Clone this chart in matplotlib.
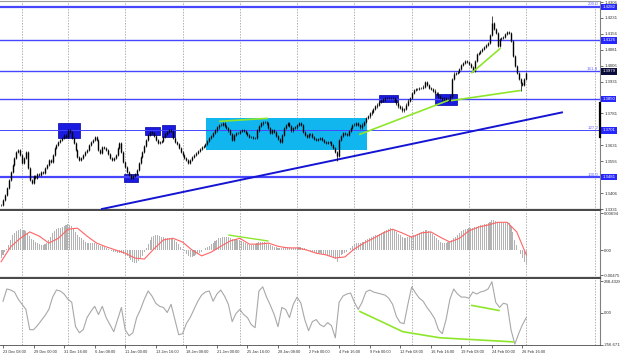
import numpy as np
import matplotlib.pyplot as plt
from matplotlib.patches import Rectangle

plt.rcParams['font.family'] = ['Liberation Sans', 'DejaVu Sans']

# ---- data (bar index 0 = 23 Dec 08:00, 4H bars) ----
bars = np.arange(-1, 275)
closes = [
    1.3350, 1.3373, 1.3397, 1.3429, 1.3467, 1.3504, 1.3537, 1.3570, 1.3598, 1.3608,
    1.3584, 1.3547, 1.3570, 1.3598, 1.3523, 1.3467, 1.3453, 1.3486, 1.3476, 1.3495,
    1.3490, 1.3504, 1.3500, 1.3523, 1.3537, 1.3561, 1.3551, 1.3584, 1.3617, 1.3631,
    1.3645, 1.3654, 1.3664, 1.3678, 1.3669, 1.3701, 1.3692, 1.3664, 1.3640, 1.3608,
    1.3575, 1.3561, 1.3570, 1.3584, 1.3598, 1.3608, 1.3631, 1.3645, 1.3654, 1.3669,
    1.3654, 1.3608, 1.3594, 1.3622, 1.3617, 1.3608, 1.3589, 1.3570, 1.3561, 1.3570,
    1.3584, 1.3617, 1.3640, 1.3598, 1.3551, 1.3528, 1.3504, 1.3490, 1.3476, 1.3486,
    1.3495, 1.3514, 1.3547, 1.3575, 1.3598, 1.3626, 1.3654, 1.3678, 1.3692, 1.3687,
    1.3673, 1.3654, 1.3640, 1.3645, 1.3650, 1.3669, 1.3683, 1.3692, 1.3701, 1.3697,
    1.3664, 1.3645, 1.3636, 1.3617, 1.3598, 1.3584, 1.3570, 1.3561, 1.3547, 1.3561,
    1.3575, 1.3584, 1.3594, 1.3603, 1.3612, 1.3622, 1.3626, 1.3636, 1.3650, 1.3664,
    1.3673, 1.3687, 1.3701, 1.3715, 1.3725, 1.3729, 1.3734, 1.3720, 1.3711, 1.3701,
    1.3683, 1.3654, 1.3678, 1.3687, 1.3687, 1.3697, 1.3701, 1.3697, 1.3687, 1.3678,
    1.3669, 1.3669, 1.3664, 1.3664, 1.3701, 1.3720, 1.3734, 1.3739, 1.3739, 1.3734,
    1.3711, 1.3687, 1.3701, 1.3692, 1.3673, 1.3659, 1.3645, 1.3678, 1.3711, 1.3725,
    1.3734, 1.3720, 1.3701, 1.3711, 1.3715, 1.3725, 1.3734, 1.3725, 1.3692, 1.3678,
    1.3669, 1.3683, 1.3683, 1.3669, 1.3659, 1.3654, 1.3659, 1.3664, 1.3654, 1.3645,
    1.3640, 1.3645, 1.3645, 1.3631, 1.3617, 1.3598, 1.3579, 1.3654, 1.3673, 1.3687,
    1.3683, 1.3678, 1.3697, 1.3711, 1.3725, 1.3729, 1.3734, 1.3725, 1.3715, 1.3729,
    1.3739, 1.3758, 1.3767, 1.3781, 1.3790, 1.3804, 1.3814, 1.3823, 1.3833, 1.3842,
    1.3847, 1.3852, 1.3855, 1.3852, 1.3855, 1.3852, 1.3842, 1.3828, 1.3814, 1.3809,
    1.3795, 1.3804, 1.3823, 1.3842, 1.3855, 1.3879, 1.3893, 1.3898, 1.3898, 1.3903,
    1.3903, 1.3908, 1.3931, 1.3917, 1.3903, 1.3898, 1.3889, 1.3879, 1.3875, 1.3861,
    1.3852, 1.3847, 1.3852, 1.3842, 1.3847, 1.3861, 1.3945, 1.3969, 1.3973, 1.3978,
    1.3992, 1.4011, 1.4020, 1.4030, 1.4025, 1.4015, 1.4001, 1.3983, 1.4030, 1.4062,
    1.4067, 1.4076, 1.4086, 1.4095, 1.4104, 1.4114, 1.4151, 1.4208, 1.4180, 1.4161,
    1.4100, 1.4133, 1.4137, 1.4142, 1.4156, 1.4165, 1.4161, 1.4123, 1.4053, 1.4006,
    1.3973, 1.3945, 1.3926, 1.3917, 1.3945, 1.3973,
]
spike_bars = [175, 256, 271]
spike_vals = [1.3556, 1.4241, 1.3889]

macd_hist = [
    -0.0015, -0.0009, -0.0004, 0.0002, 0.0009, 0.0019, 0.0028, 0.0032, 0.0036, 0.0037,
    0.0039, 0.0037, 0.0037, 0.0036, 0.0032, 0.0026, 0.0021, 0.0019, 0.0015, 0.0013,
    0.0011, 0.0009, 0.0009, 0.0011, 0.0013, 0.0019, 0.0024, 0.0032, 0.0036, 0.0039,
    0.0041, 0.0041, 0.0043, 0.0045, 0.0047, 0.0049, 0.0047, 0.0045, 0.0039, 0.0034,
    0.0028, 0.0024, 0.0022, 0.0019, 0.0015, 0.0013, 0.0013, 0.0013, 0.0013, 0.0013,
    0.0011, 0.0009, 0.0007, 0.0007, 0.0006, 0.0004, 0.0002, 0.0000, -0.0002, -0.0004,
    -0.0004, -0.0006, -0.0006, -0.0006, -0.0007, -0.0009, -0.0011, -0.0015, -0.0019, -0.0022,
    -0.0024, -0.0024, -0.0021, -0.0017, -0.0011, -0.0004, 0.0004, 0.0011, 0.0019, 0.0024,
    0.0026, 0.0028, 0.0028, 0.0026, 0.0024, 0.0024, 0.0022, 0.0022, 0.0022, 0.0022,
    0.0021, 0.0019, 0.0015, 0.0011, 0.0006, 0.0002, -0.0002, -0.0007, -0.0011, -0.0013,
    -0.0013, -0.0011, -0.0009, -0.0007, -0.0006, -0.0004, 0.0000, 0.0004, 0.0006, 0.0007,
    0.0011, 0.0013, 0.0017, 0.0019, 0.0022, 0.0022, 0.0024, 0.0024, 0.0024, 0.0024,
    0.0022, 0.0021, 0.0021, 0.0021, 0.0019, 0.0019, 0.0017, 0.0015, 0.0013, 0.0011,
    0.0009, 0.0009, 0.0009, 0.0011, 0.0013, 0.0015, 0.0015, 0.0015, 0.0015, 0.0013,
    0.0011, 0.0009, 0.0007, 0.0006, 0.0006, 0.0004, 0.0004, 0.0004, 0.0006, 0.0006,
    0.0006, 0.0006, 0.0004, 0.0004, 0.0004, 0.0006, 0.0006, 0.0006, 0.0004, 0.0004,
    0.0002, 0.0000, -0.0002, -0.0004, -0.0004, -0.0006, -0.0006, -0.0006, -0.0007, -0.0007,
    -0.0009, -0.0009, -0.0011, -0.0011, -0.0013, -0.0017, -0.0022, -0.0013, -0.0009, -0.0007,
    -0.0006, -0.0004, 0.0000, 0.0004, 0.0007, 0.0011, 0.0013, 0.0013, 0.0013, 0.0015,
    0.0015, 0.0019, 0.0021, 0.0022, 0.0024, 0.0026, 0.0028, 0.0028, 0.0030, 0.0032,
    0.0034, 0.0036, 0.0037, 0.0039, 0.0041, 0.0039, 0.0037, 0.0034, 0.0030, 0.0028,
    0.0024, 0.0022, 0.0022, 0.0024, 0.0024, 0.0026, 0.0028, 0.0028, 0.0030, 0.0032,
    0.0034, 0.0036, 0.0037, 0.0037, 0.0036, 0.0034, 0.0030, 0.0026, 0.0022, 0.0019,
    0.0015, 0.0013, 0.0013, 0.0013, 0.0015, 0.0015, 0.0019, 0.0022, 0.0024, 0.0028,
    0.0032, 0.0036, 0.0037, 0.0039, 0.0039, 0.0041, 0.0041, 0.0041, 0.0043, 0.0043,
    0.0045, 0.0047, 0.0047, 0.0049, 0.0049, 0.0050, 0.0052, 0.0056, 0.0056, 0.0054,
    0.0052, 0.0052, 0.0052, 0.0050, 0.0050, 0.0050, 0.0050, 0.0045, 0.0034, 0.0019,
    0.0009, 0.0000, -0.0007, -0.0015, -0.0022, -0.0028,
]
signal_bars = np.arange(-1, 275, 5)
macd_signal = [
    -0.0022, 0.0006, 0.0022, 0.0034, 0.0026, 0.0013, 0.0022, 0.0039, 0.0041, 0.0026,
    0.0013, 0.0006, 0.0000, -0.0006, -0.0015, -0.0017, 0.0002, 0.0019, 0.0022, 0.0015,
    0.0000, -0.0011, -0.0004, 0.0007, 0.0017, 0.0022, 0.0011, 0.0011, 0.0013, 0.0007,
    0.0004, 0.0004, 0.0000, -0.0006, -0.0009, -0.0015, -0.0013, 0.0002, 0.0013, 0.0022,
    0.0032, 0.0039, 0.0032, 0.0024, 0.0032, 0.0034, 0.0024, 0.0015, 0.0022, 0.0036,
    0.0043, 0.0047, 0.0052, 0.0052, 0.0034, -0.0009,
]
cci_bars = np.arange(0, 275, 2)
cci = [
    89, 186, 178, 162, 105, 65, 24, -136, -136, -104,
    -64, -24, 24, 122, 178, 170, 146, 105, 81, -112,
    -160, -136, -40, 8, 49, -16, 49, -40, -96, -152,
    -56, 40, -136, -184, -160, -40, 24, 105, 170, 130,
    73, 49, 40, 0, 65, -56, -176, -168, -88, -40,
    24, 89, 138, 162, 170, 89, 146, 178, 130, 65,
    -72, -8, 24, -16, -40, -96, -120, 170, 203, 122,
    57, -16, -112, 40, 24, -40, 65, 122, 73, -56,
    -144, -72, -56, -96, -112, -80, -104, -200, 81, 130,
    146, 154, 81, 24, 81, 162, 178, 162, 154, 146,
    138, 113, 65, -32, -80, -88, 65, 203, 154, 113,
    89, 40, 0, -48, -136, -168, -56, 105, 186, 146,
    122, 122, 113, 162, 146, 162, 170, 186, 243, 81,
    40, 73, 65, -136, -250, -168, -96, -40,
]

date_bars = np.arange(0, 273, 16)
date_labels = ['23 Dec 08:00', '29 Dec 00:00', '31 Dec 16:00', '6 Jan 08:00',
               '11 Jan 00:00', '13 Jan 16:00', '18 Jan 08:00', '21 Jan 00:00',
               '25 Jan 16:00', '28 Jan 08:00', '2 Feb 00:00', '4 Feb 16:00',
               '9 Feb 00:00', '12 Feb 08:00', '16 Feb 16:00', '19 Feb 08:00',
               '24 Feb 00:00', '26 Feb 16:00']
week_bars = [10, 34, 64, 94, 124, 154, 184, 214, 244, 274, 310]

price_ticks = [1.3331, 1.3406, 1.3556, 1.3631, 1.3781, 1.3931, 1.4006,
               1.4081, 1.4156, 1.4231, 1.4306]
levels = [1.4282, 1.4126, 1.3979, 1.3850, 1.3701, 1.3481]
level_widths = [1.6, 1.0, 1.0, 1.0, 0.7, 1.6]
fib_levels = [1.4282, 1.3979, 1.3701, 1.3481]
fib_labels = ['200.0', '161.8', '127.2', '100.0']

# zones: (bar_start, bar_end, price_low, price_high)
blue_zones = [(28.8, 40.3, 1.3664, 1.3734), (63.4, 70.7, 1.3458, 1.3495),
              (74.3, 82.2, 1.3678, 1.3715), (83.2, 90.1, 1.3669, 1.3725),
              (196.9, 206.8, 1.3833, 1.3870), (226.0, 237.7, 1.3819, 1.3875)]
range_zone = (106.3, 190.6, 1.3608, 1.3762)
trend_line = ([51.8, 292.7], [1.3331, 1.3786])
green_price = [([113.6, 138.2], [1.3744, 1.3758]),
               ([186.9, 233.0], [1.3683, 1.3842]),
               ([235.0, 270.7], [1.3842, 1.3889]),
               ([245.5, 260.2], [1.3973, 1.4086])]
green_macd = ([118.3, 138.7], [0.0028, 0.0017])
green_cci = [([186.9, 209.4, 228.8, 267.0], [8, -152, -200, -232]),
             ([245.5, 259.7], [56, 16])]

# ---- figure ----
W, H = 620, 357
fig = plt.figure(figsize=(W / 100, H / 100), dpi=100)
fig.patch.set_facecolor('white')


def box(top, bottom):
    return [0, 1 - bottom / H, 600 / W, (bottom - top) / H]


ax = fig.add_axes(box(1, 210))
ax2 = fig.add_axes(box(211, 278))
ax3 = fig.add_axes(box(279, 345))

xlim = (-1.57, 312.6)
for a in (ax, ax2, ax3):
    a.set_xlim(*xlim)
    for s in ('left', 'top'):
        a.spines[s].set_visible(False)
    a.spines['right'].set_color('#808080')
    a.spines['right'].set_linewidth(0.8)
    a.spines['bottom'].set_color('#4a4a4a')
    a.spines['bottom'].set_linewidth(1.6)
    a.yaxis.tick_right()
    a.tick_params(axis='y', labelsize=3.1, length=2, width=0.5, pad=1,
                  colors='#303030')
    for wb in week_bars:
        a.axvline(wb, color='#909090', lw=0.5, ls=(0, (2, 2)), zorder=1)
ax.spines['top'].set_visible(True)
ax.spines['top'].set_color('#9a9a9a')
ax3.spines['bottom'].set_linewidth(0.6)
ax.tick_params(axis='x', bottom=False, labelbottom=False)
ax2.tick_params(axis='x', bottom=False, labelbottom=False)

# ---- main price panel ----
ax.set_ylim(1.33263, 1.43108)
closes = np.array(closes)
opens = np.r_[closes[0], closes[:-1]]
body_hi = np.maximum(opens, closes)
body_lo = np.minimum(opens, closes)
highs = body_hi + 0.0005
lows = body_lo - 0.0005
for b, v in zip(spike_bars, spike_vals):
    i = b + 1
    if v > highs[i]:
        highs[i] = v
    else:
        lows[i] = v

ax.add_patch(Rectangle((range_zone[0], range_zone[2]), range_zone[1] - range_zone[0],
                       range_zone[3] - range_zone[2], color='#12b6ee', zorder=2, lw=0))
for b0, b1, p0, p1 in blue_zones:
    ax.add_patch(Rectangle((b0, p0), b1 - b0, p1 - p0, facecolor='#1a1ae0',
                           edgecolor='#0000a0', lw=0.5, zorder=2))

for lv, lw in zip(levels, level_widths):
    ax.axhline(lv, color='#4646ff', lw=lw, zorder=3)
ax.plot(*trend_line, color='#1414d2', lw=1.4, zorder=3)

ax.vlines(bars, lows, highs, colors='black', lw=0.5, zorder=5)
ax.vlines(bars, body_lo, body_hi, colors='black', lw=1.0, zorder=5)

for xs, ys in green_price:
    ax.plot(xs, ys, color='#8ee62a', lw=1.2, zorder=6)

for lv, lab in zip(fib_levels, fib_labels):
    ax.text(0.997, lv + 0.0003, lab, transform=ax.get_yaxis_transform(),
            fontsize=3.2, color='#6a6aff', ha='right', va='bottom')

ax.set_yticks(price_ticks)
ax.set_yticklabels([f'{p:.4f}' for p in price_ticks])
box_colors = ['#2626ff', '#2626ff', '#0c0c3c', '#2626ff', '#2626ff', '#2626ff']
for lv, bc in zip(levels, box_colors):
    ax.text(1.004, lv, f'{lv:.4f}', transform=ax.get_yaxis_transform(),
            fontsize=3.1, color='white', ha='left', va='center', zorder=10,
            bbox=dict(boxstyle='square,pad=0.3', fc=bc, ec='none'))
ax.plot([1.0, 1.0], [1.3669, 1.3828], transform=ax.get_yaxis_transform(),
        color='black', lw=1.6, clip_on=False, zorder=10)

# ---- MACD panel ----
ax2.set_ylim(-0.00525, 0.00732)
ax2.bar(bars, macd_hist, width=0.55, color='#b2b2b2', zorder=2)
ax2.plot(signal_bars, macd_signal, color='#ff6464', lw=0.8, zorder=3)
ax2.plot(*green_macd, color='#8ee62a', lw=1.0, zorder=4)
ax2.set_yticks([0.00694, 0.0, -0.00475])
ax2.set_yticklabels(['0.00694', '0.00', '-0.00475'])

# ---- CCI panel ----
ax3.set_ylim(-257, 265)
ax3.plot(cci_bars, cci, color='#a8a8a8', lw=0.8, zorder=2)
for xs, ys in green_cci:
    ax3.plot(xs, ys, color='#8ee62a', lw=1.2, zorder=3)
ax3.set_yticks([248.4328, 0.0, -256.6711])
ax3.set_yticklabels(['248.4328', '0.00', '-256.6711'])

ax3.set_xticks(date_bars)
ax3.set_xticklabels(date_labels)
ax3.tick_params(axis='x', labelsize=2.8, length=2, width=0.5, pad=1.5, colors='#303030')
for t in ax3.get_xticklabels():
    t.set_ha('left')

fig.savefig('out.png', dpi=100, facecolor='white')
